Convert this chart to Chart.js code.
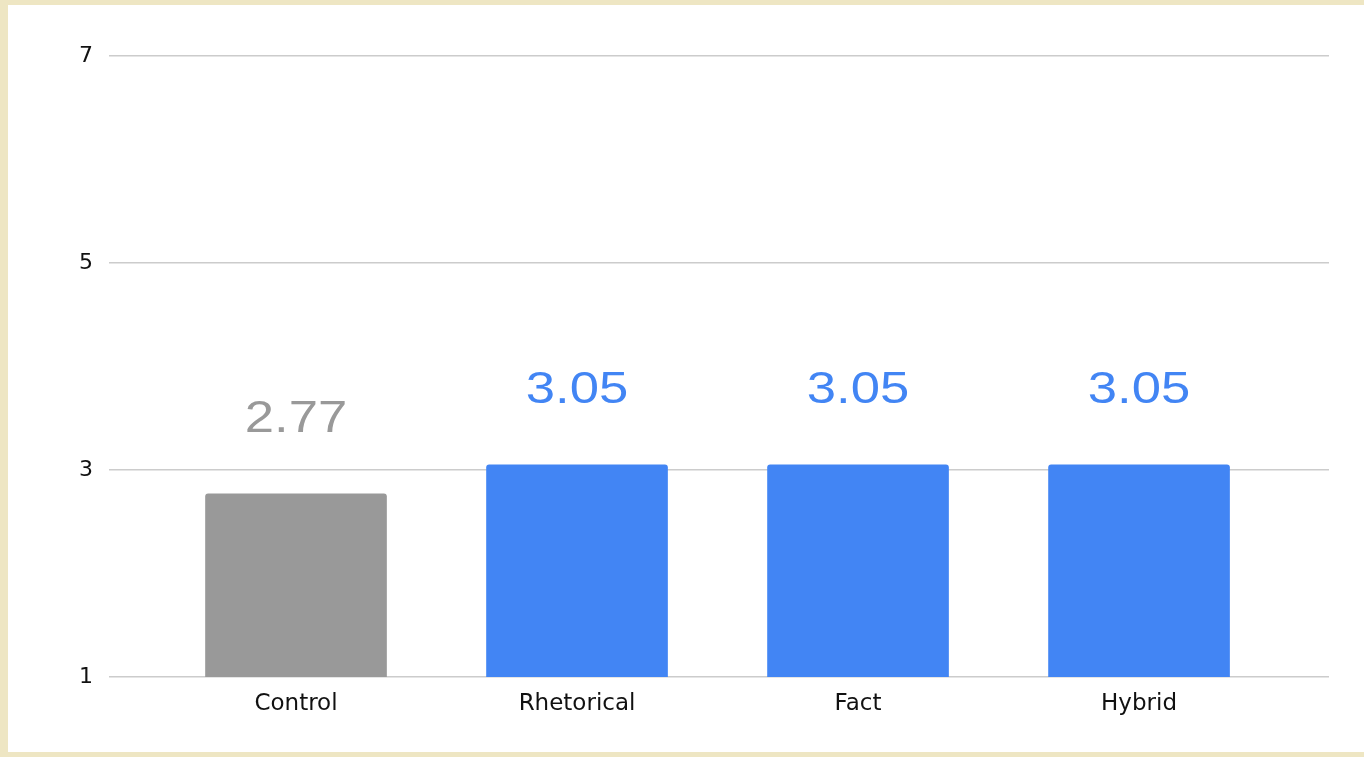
<!DOCTYPE html>
<html>
<head>
<meta charset="utf-8">
<script src="https://cdn.jsdelivr.net/npm/chart.js@4/dist/chart.umd.min.js"></script>
<style>
  html, body { margin: 0; padding: 0; }
  body { width: 1364px; height: 757px; background: #EEE6C3; position: relative; overflow: hidden; }
  #wrap { position: absolute; left: 8px; top: 5px; width: 1356px; height: 747px; background: #ffffff; }
  canvas { display: block; }
</style>
</head>
<body>
<div id="wrap"><canvas id="c" width="1356" height="747"></canvas></div>
<script>
const categories = ["Control", "Rhetorical", "Fact", "Hybrid"];
const values = [2.77, 3.05, 3.05, 3.05];
const barColors = ["#999999", "#4285F4", "#4285F4", "#4285F4"];
const yTicks = [1, 3, 5, 7];

const valueLabels = {
  id: 'valueLabels',
  afterDatasetsDraw(chart) {
    const ctx = chart.ctx;
    const meta = chart.getDatasetMeta(0);
    meta.data.forEach((bar, i) => {
      ctx.save();
      ctx.font = '45px "Liberation Sans", Arial, sans-serif';
      ctx.textAlign = 'center';
      ctx.textBaseline = 'alphabetic';
      ctx.fillStyle = barColors[i];
      ctx.translate(bar.x, bar.y - 62);
      ctx.scale(1.17, 1);
      ctx.fillText(values[i].toFixed(2), 0, 0);
      ctx.restore();
    });
  }
};

new Chart(document.getElementById('c'), {
  type: 'bar',
  data: {
    datasets: [{
      data: values.map((v, i) => ({ x: i, y: v })),
      backgroundColor: barColors,
      barThickness: 181,
      borderRadius: { topLeft: 3, topRight: 3, bottomLeft: 0, bottomRight: 0 },
      borderSkipped: 'bottom'
    }]
  },
  options: {
    responsive: false,
    animation: false,
    events: [],
    layout: { padding: { left: 0, right: 35, top: 51, bottom: 0 } },
    plugins: { legend: { display: false }, tooltip: { enabled: false } },
    scales: {
      x: {
        type: 'linear',
        offset: false,
        min: -0.6655,
        max: 3.676,
        afterBuildTicks(scale) { scale.ticks = categories.map((_, i) => ({ value: i })); },
        afterFit(scale) { scale.height = 75; },
        grid: { display: false, drawTicks: false, offset: false },
        border: { display: false },
        ticks: {
          padding: 13,
          autoSkip: false,
          maxRotation: 0,
          color: '#111111',
          font: { family: 'DejaVu Sans', size: 23 },
          callback: (v) => categories[v] ?? ''
        }
      },
      y: {
        min: 1,
        max: 7,
        afterBuildTicks(scale) { scale.ticks = yTicks.map(v => ({ value: v })); },
        afterFit(scale) { scale.width = 101; },
        grid: { color: '#cccccc', lineWidth: 1.5, drawTicks: false },
        border: { display: false },
        ticks: {
          padding: 16,
          color: '#111111',
          font: { family: 'DejaVu Sans', size: 22 }
        }
      }
    }
  },
  plugins: [valueLabels]
});
</script>
</body>
</html>
